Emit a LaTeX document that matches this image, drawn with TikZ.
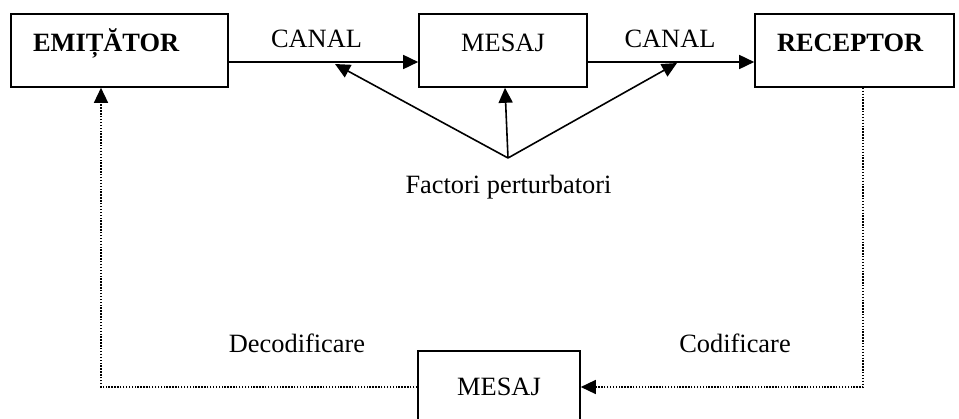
\documentclass[tikz,border=0pt]{standalone}
\usepackage{fontspec}
\setmainfont{Liberation Serif}
\usepackage{tikz}
\usetikzlibrary{arrows.meta, positioning}

\tikzset{
  box/.style={draw, line width=1.6pt, inner ysep=0pt, inner xsep=22pt,
    text height=37pt, text depth=36pt},
  flow/.style={line width=1.6pt, -{Triangle[length=15pt,width=14pt]}},
  dotline/.style={line width=1.4pt, dash pattern=on 1.4pt off 1.5pt,
    -{Triangle[length=15pt,width=14pt]}}
}

\begin{document}
\begin{tikzpicture}[x=1pt, y=-1pt, font=\fontsize{26.4}{30}\selectfont]
\clip (0,0) rectangle (959,418);
\node[box, text width=173pt, align=left, font=\fontsize{26.4}{30}\selectfont\bfseries] (emit) at (119.5,50.5) {EMIȚĂTOR};
\node[box, text width=124pt, align=center] (msg) at (503,50.5) {MESAJ};
\node[box, text width=155pt, align=left, font=\fontsize{26.4}{30}\selectfont\bfseries] (rec) at (854.5,50.5) {RECEPTOR};
\node[box, text width=118pt, align=center, text height=44pt, text depth=28pt] (msgb) at (499,387) {MESAJ};

\node[anchor=base] (canal1) at (316.5,47) {CANAL};
\node[anchor=base] (canal2) at (670,47) {CANAL};
\node[anchor=base] (fact) at (508.5,193) {Factori perturbatori};
\node[anchor=base] (decod) at (297,352) {Decodificare};
\node[anchor=base] (cod) at (735,352) {Codificare};

\coordinate (fp) at (508,158);
\coordinate (hit1) at (335,64);
\coordinate (hit2) at (677,63);

\draw[flow] ([yshift=-11.5pt]emit.east) -- ([yshift=-11.5pt]msg.west);
\draw[flow] ([yshift=-11.5pt]msg.east) -- ([yshift=-11.5pt]rec.west);
\draw[flow] (fp) -- (hit1);
\draw[flow] (fp) -- ([xshift=2pt]msg.south);
\draw[flow] (fp) -- (hit2);

\draw[dotline] ([xshift=8.5pt]rec.south) |- (msgb.east);
\draw[dotline] (msgb.west) -| ([xshift=-18.5pt]emit.south);
\end{tikzpicture}
\end{document}
